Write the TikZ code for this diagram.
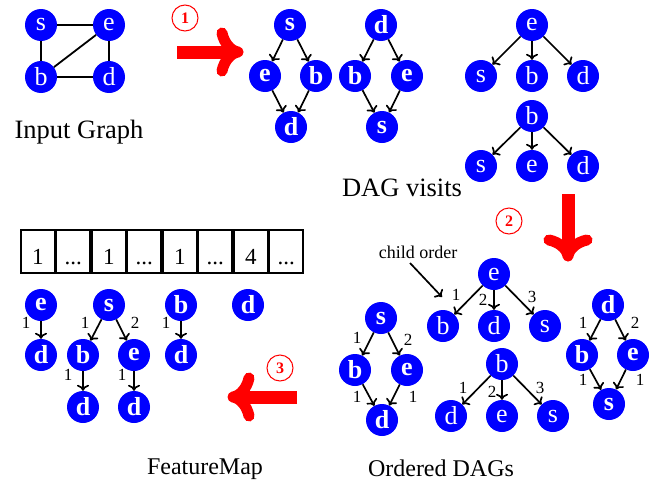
\documentclass[tikz,border=0pt]{standalone}
\usepackage{fontspec}
\setmainfont{Liberation Serif}
\usetikzlibrary{arrows.meta}
\newcommand\mydots{...}
\begin{document}
\begin{tikzpicture}[x=1pt,y=-1pt,
  vtx/.style={circle, fill=blue, text=white, minimum size=32pt, inner sep=0pt, font=\fontsize{26}{26}\selectfont},
  vtxb/.style={vtx, font=\fontsize{26}{26}\selectfont\bfseries},
  und/.style={line width=1.8pt},
  dir/.style={line width=1.7pt, -{To[length=6pt,width=12pt]}},
  elab/.style={font=\fontsize{17}{17}\selectfont, inner sep=0pt},
  title/.style={font=\fontsize{24}{24}\selectfont, anchor=base, inner sep=0pt},
  bigtitle/.style={title, font=\fontsize{26.5}{26.5}\selectfont},
  cell/.style={draw, line width=1.6pt, minimum width=34pt, minimum height=43pt, inner sep=0pt},
  celltxt/.style={font=\fontsize{23}{23}\selectfont, anchor=base, inner sep=0pt},
  stepnum/.style={circle, draw=red, line width=1pt, text=red, minimum size=26pt, inner sep=0pt, font=\fontsize{16}{16}\selectfont\bfseries},
  bigshaft/.style={red, line width=13pt},
  bighead/.style={red, line width=11pt, line cap=round, line join=round},
]
\useasboundingbox[fill=white] (0,0) rectangle (667,482);

% ---------- Input graph ----------
\node[vtx] (ig-s) at (41,25) {s};
\node[vtx] (ig-e) at (109,25) {e};
\node[vtx] (ig-b) at (41,77) {b};
\node[vtx] (ig-d) at (109,77) {d};
\draw[und] (ig-s)--(ig-e) (ig-s)--(ig-b) (ig-b)--(ig-d) (ig-e)--(ig-d) (ig-b)--(ig-e);
\node[bigtitle] (t-ig) at (79,138) {Input Graph};

% ---------- Step 1 ----------
\node[stepnum] (n1) at (185,18) {1};
\coordinate (a1-tail) at (177,52);
\coordinate (a1-end) at (232,52);
\draw[bigshaft] (a1-tail) -- (a1-end);
\draw[bighead] (222,33) .. controls (224,43) and (231,51) .. (238,52) .. controls (231,53) and (224,61) .. (222,71);

% ---------- DAG visits ----------
\node[vtxb] (v1-s) at (290,25) {s};
\node[vtxb] (v1-e) at (265,76) {e};
\node[vtxb] (v1-b) at (316,76) {b};
\node[vtxb] (v1-d) at (291,127) {d};
\draw[dir] (v1-s)--(v1-e);
\draw[dir] (v1-s)--(v1-b);
\draw[dir] (v1-e)--(v1-d);
\draw[dir] (v1-b)--(v1-d);

\node[vtxb] (v2-d) at (381,25) {d};
\node[vtxb] (v2-b) at (355,76) {b};
\node[vtxb] (v2-e) at (407,76) {e};
\node[vtxb] (v2-s) at (382,127) {s};
\draw[dir] (v2-d)--(v2-b);
\draw[dir] (v2-d)--(v2-e);
\draw[dir] (v2-b)--(v2-s);
\draw[dir] (v2-e)--(v2-s);

\node[vtx] (v3-e) at (532,25) {e};
\node[vtx] (v3-s) at (481,76) {s};
\node[vtx] (v3-b) at (532,76) {b};
\node[vtx] (v3-d) at (583,76) {d};
\draw[dir] (v3-e)--(v3-s);
\draw[dir] (v3-e)--(v3-b);
\draw[dir] (v3-e)--(v3-d);

\node[vtx] (v4-b) at (532,116) {b};
\node[vtx] (v4-s) at (481,166) {s};
\node[vtx] (v4-e) at (532,166) {e};
\node[vtx] (v4-d) at (583,166) {d};
\draw[dir] (v4-b)--(v4-s);
\draw[dir] (v4-b)--(v4-e);
\draw[dir] (v4-b)--(v4-d);

\node[bigtitle] (t-dv) at (402,196) {DAG visits};

% ---------- Step 2 ----------
\node[stepnum] (n2) at (509,221) {2};
\coordinate (a2-tail) at (568,194);
\coordinate (a2-end) at (568,250);
\draw[bigshaft] (a2-tail) -- (a2-end);
\draw[bighead] (549,240) .. controls (559,242) and (567,249) .. (568,256) .. controls (569,249) and (577,242) .. (587,240);

% ---------- Ordered DAGs ----------
\node[font=\fontsize{18}{18}\selectfont, inner sep=0pt] (co) at (418,252) {child order};
\coordinate (co-start) at (410,263);
\coordinate (co-end) at (442,297);
\draw[dir] (co-start) -- (co-end);

\node[vtx] (o1-e) at (494,274) {e};
\node[vtx] (o1-b) at (443,326) {b};
\node[vtx] (o1-d) at (494,326) {d};
\node[vtx] (o1-s) at (545,326) {s};
\draw[dir] (o1-e)--(o1-b);
\draw[dir] (o1-e)--(o1-d);
\draw[dir] (o1-e)--(o1-s);
\node[elab] (o1-l1) at (456,295) {1};
\node[elab] (o1-l2) at (483,300) {2};
\node[elab] (o1-l3) at (532,297) {3};

\node[vtx] (o2-b) at (502,364) {b};
\node[vtx] (o2-d) at (451,416) {d};
\node[vtx] (o2-e) at (502,416) {e};
\node[vtx] (o2-s) at (553,416) {s};
\draw[dir] (o2-b)--(o2-d);
\draw[dir] (o2-b)--(o2-e);
\draw[dir] (o2-b)--(o2-s);
\node[elab] (o2-l1) at (463,388) {1};
\node[elab] (o2-l2) at (492,392) {2};
\node[elab] (o2-l3) at (540,388) {3};

\node[vtxb] (o3-s) at (381,318) {s};
\node[vtxb] (o3-b) at (355,370) {b};
\node[vtxb] (o3-e) at (407,370) {e};
\node[vtxb] (o3-d) at (382,420) {d};
\draw[dir] (o3-s)--(o3-b);
\draw[dir] (o3-s)--(o3-e);
\draw[dir] (o3-b)--(o3-d);
\draw[dir] (o3-e)--(o3-d);
\node[elab] (o3-l1) at (357,338) {1};
\node[elab] (o3-l2) at (408,340) {2};
\node[elab] (o3-l3) at (357,397) {1};
\node[elab] (o3-l4) at (413,397) {1};

\node[vtxb] (o4-d) at (608,305) {d};
\node[vtxb] (o4-b) at (582,355) {b};
\node[vtxb] (o4-e) at (633,355) {e};
\node[vtxb] (o4-s) at (609,404) {s};
\draw[dir] (o4-d)--(o4-b);
\draw[dir] (o4-d)--(o4-e);
\draw[dir] (o4-b)--(o4-s);
\draw[dir] (o4-e)--(o4-s);
\node[elab] (o4-l1) at (583,323) {1};
\node[elab] (o4-l2) at (635,323) {2};
\node[elab] (o4-l3) at (583,380) {1};
\node[elab] (o4-l4) at (640,380) {1};

\node[title] (t-od) at (441,476) {Ordered DAGs};

% ---------- Step 3 ----------
\node[stepnum] (n3) at (280,368) {3};
\coordinate (a3-tail) at (297,397);
\coordinate (a3-end) at (241,397);
\draw[bigshaft] (a3-tail) -- (a3-end);
\draw[bighead] (249,378) .. controls (247,388) and (240,396) .. (233,397) .. controls (240,398) and (247,406) .. (249,416);

% ---------- Feature map ----------
\foreach \i/\t in {0/1, 1/\mydots, 2/1, 3/\mydots, 4/1, 5/\mydots, 6/4, 7/\mydots} {
  \node[cell] (c\i) at ({20+35.5*(\i+0.5)},251.5) {};
  \node[celltxt] (ct\i) at ({20+35.5*(\i+0.5)},264) {\t};
}

\node[vtxb] (f1-e) at (41,305) {e};
\node[vtxb] (f1-d) at (41,355) {d};
\draw[dir] (f1-e)--(f1-d);
\node[elab] (f1-l1) at (26,323) {1};

\node[vtxb] (f2-s) at (109,305) {s};
\node[vtxb] (f2-b) at (83,355) {b};
\node[vtxb] (f2-e) at (134,355) {e};
\node[vtxb] (f2-d1) at (83,407) {d};
\node[vtxb] (f2-d2) at (134,407) {d};
\draw[dir] (f2-s)--(f2-b);
\draw[dir] (f2-s)--(f2-e);
\draw[dir] (f2-b)--(f2-d1);
\draw[dir] (f2-e)--(f2-d2);
\node[elab] (f2-l1) at (85,323) {1};
\node[elab] (f2-l2) at (135,323) {2};
\node[elab] (f2-l3) at (68,375) {1};
\node[elab] (f2-l4) at (122,375) {1};

\node[vtxb] (f3-b) at (181,305) {b};
\node[vtxb] (f3-d) at (181,355) {d};
\draw[dir] (f3-b)--(f3-d);
\node[elab] (f3-l1) at (166,323) {1};

\node[vtxb] (f4-d) at (248,305) {d};

\node[title] (t-fm) at (205,474) {FeatureMap};
\end{tikzpicture}
\end{document}
